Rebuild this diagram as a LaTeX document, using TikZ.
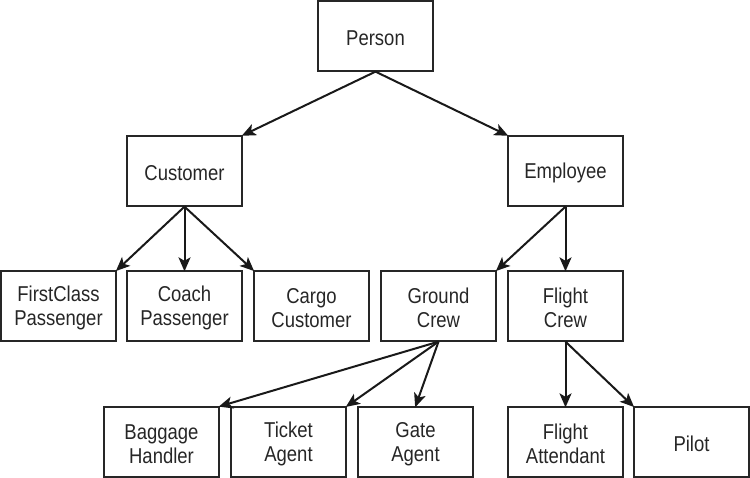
\documentclass[tikz,border=0pt]{standalone}
\usepackage{fontspec}
\setmainfont{Liberation Sans}[FakeStretch=0.86]
\usetikzlibrary{arrows.meta}
\begin{document}
\begin{tikzpicture}[x=1pt,y=-1pt,
  cls/.style={draw=black!85,line width=1.3pt,minimum width=115pt,minimum height=70pt,inner sep=0pt},
  txt/.style={align=center,font=\fontsize{21.5}{24}\selectfont,text=black!85,inner sep=0pt,yshift=-2pt},
  inh/.style={draw=black!90,line width=2pt,-{Stealth[length=14pt,width=12pt,inset=3.5pt]},shorten >=-1pt}]
\useasboundingbox (0,0) rectangle (750,478);
\node[cls,label={[txt]center:Person}] (person) at (375.5,36) {};
\node[cls,label={[txt]center:Customer}] (customer) at (184.5,171) {};
\node[cls,label={[txt]center:Employee}] (employee) at (565.5,171) {};
\node[cls,label={[txt]center:FirstClass\\Passenger}] (first) at (58.5,306) {};
\node[cls,label={[txt]center:Coach\\Passenger}] (coach) at (184.5,306) {};
\node[cls,label={[txt]center:Cargo\\Customer}] (cargo) at (311.5,306) {};
\node[cls,label={[txt]center:Ground\\Crew}] (ground) at (438.5,306) {};
\node[cls,label={[txt]center:Flight\\Crew}] (fcrew) at (565.5,306) {};
\node[cls,label={[txt]center:Baggage\\Handler}] (baggage) at (161.5,442) {};
\node[cls,label={[txt]center:Ticket\\Agent}] (ticket) at (288.5,442) {};
\node[cls,label={[txt]center:Gate\\Agent}] (gate) at (415.5,442) {};
\node[cls,label={[txt]center:Flight\\Attendant}] (attend) at (565.5,442) {};
\node[cls,label={[txt]center:Pilot}] (pilot) at (691.5,442) {};
\draw[inh] (person.south) -- (customer.north east);
\draw[inh] (person.south) -- (employee.north west);
\draw[inh] (customer.south) -- (first.north east);
\draw[inh] (customer.south) -- (coach.north);
\draw[inh] (customer.south) -- (cargo.north west);
\draw[inh] (employee.south) -- (ground.north east);
\draw[inh] (employee.south) -- (fcrew.north);
\draw[inh] (ground.south) -- (baggage.north east);
\draw[inh] (ground.south) -- (ticket.north east);
\draw[inh] (ground.south) -- (gate.north);
\draw[inh] (fcrew.south) -- (attend.north);
\draw[inh] (fcrew.south) -- (pilot.north west);
\end{tikzpicture}
\end{document}
